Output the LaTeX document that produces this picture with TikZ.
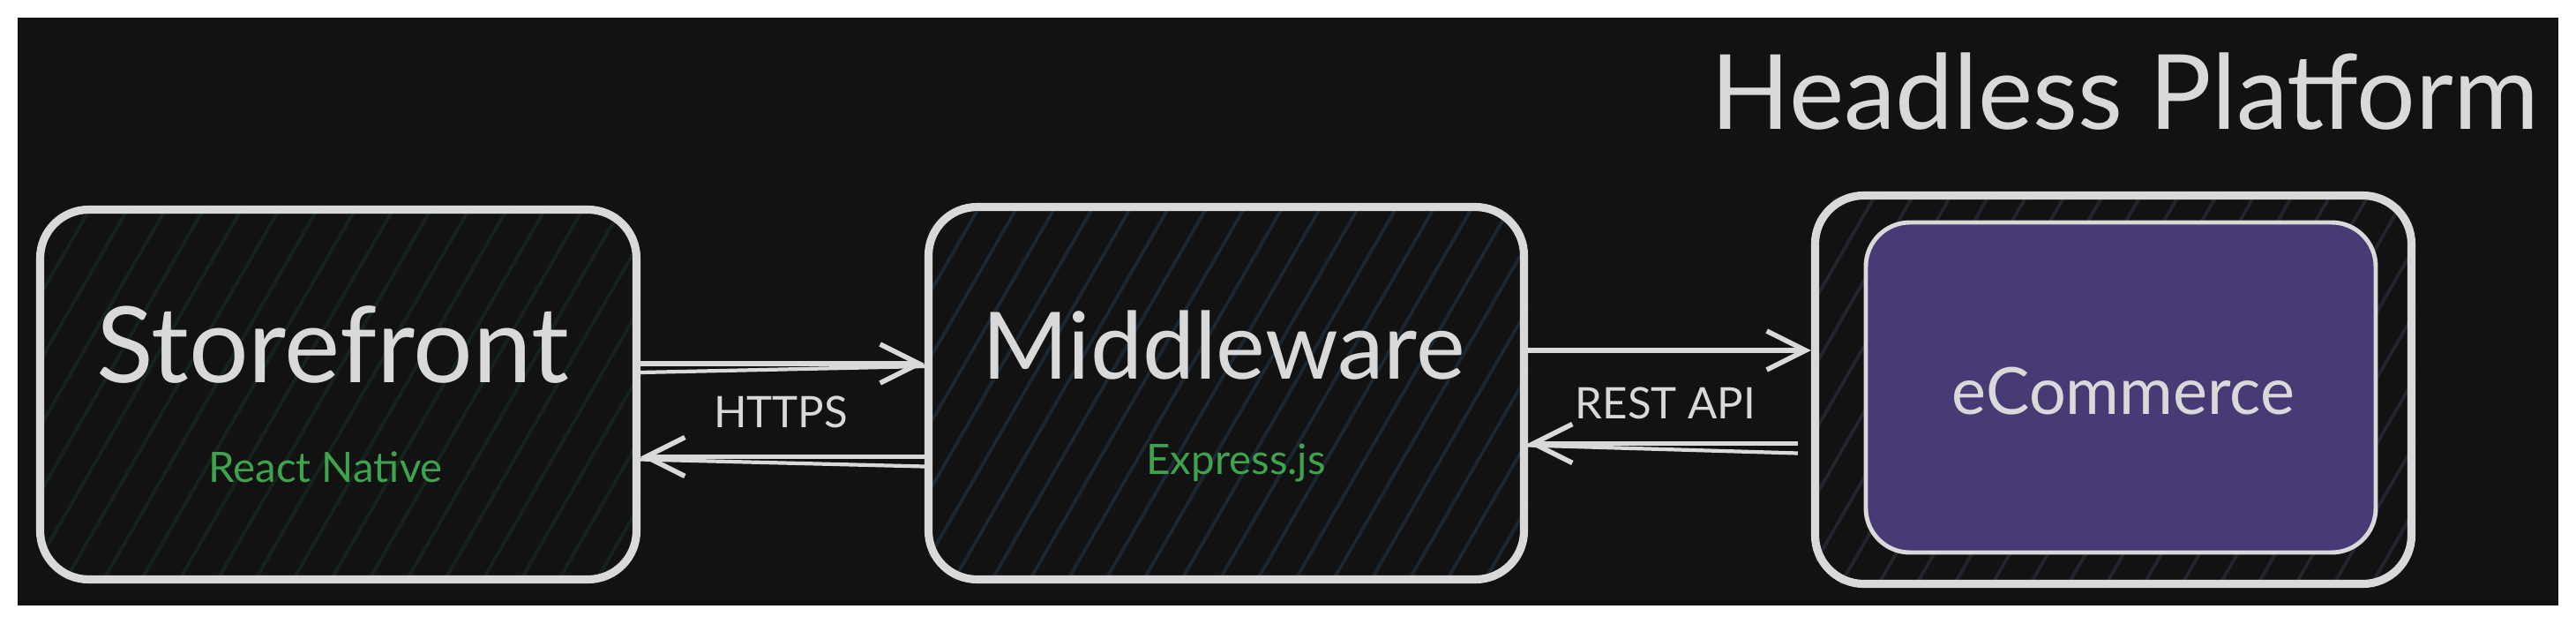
\documentclass[tikz,border=0pt]{standalone}
\usepackage{fontspec}
\setmainfont{Lato}
\usetikzlibrary{positioning,arrows.meta,backgrounds}
\definecolor{canvas}{HTML}{121212}
\definecolor{chalk}{HTML}{D9D9D9}
\definecolor{grape}{HTML}{483A75}
\definecolor{leaf}{HTML}{3FA34D}
\definecolor{hatchgreen}{HTML}{16231A}
\definecolor{hatchblue}{HTML}{1A2631}
\definecolor{hatchgrape}{HTML}{26222E}

\begin{document}
\begin{tikzpicture}[>={Straight Barb[length=4.4mm,width=4.4mm]},
  box/.style={draw=chalk,line width=2.6pt,rounded corners=5.5mm,inner sep=0pt},
  link/.style={chalk,line width=1.6pt,->},
  trail/.style={chalk,line width=1.2pt},
  big/.style={text=chalk,font=\fontsize{#1}{34}\selectfont},
  tech/.style={text=leaf,font=\fontsize{13.5}{16}\selectfont},
  proto/.style={text=chalk,font=\fontsize{14}{16}\selectfont}]
\useasboundingbox (0,0) rectangle (29.2,7.06);

% boxes
\node[box,minimum width=6.76cm,minimum height=4.19cm] (sf) at (3.835,2.59) {};
\node[box,minimum width=6.75cm,minimum height=4.22cm] (mw) at (13.90,2.605) {};
\node[box,minimum width=6.76cm,minimum height=4.40cm] (ec) at (23.955,2.645) {};
\node[box,fill=grape,line width=1.4pt,rounded corners=5mm,minimum width=5.78cm,minimum height=3.74cm] (core) at (24.04,2.67) {};

% texts
\node[big=33.5] (title) at (24.09,6.02) {Headless Platform};
\node[big=34] (sfname) at (3.77,3.15) {Storefront};
\node[big=30] (mwname) at (13.87,3.15) {Middleware};
\node[tech] (sftech) at (3.69,1.77) {React Native};
\node[tech] (mwtech) at (14.01,1.81) {Express.js};
\node[big=21] (ecname) at (24.07,2.63) {eCommerce};
\node[proto] (https) at (8.85,2.39) {HTTPS};
\node[proto] (rest) at (18.88,2.49) {REST API};

% connectors
\draw[link] ([yshift=3.5mm]sf.east) -- ([yshift=3.5mm]sf.east -| mw.west);
\draw[trail] ([yshift=2.5mm]sf.east) -- ([yshift=3.2mm]sf.east -| mw.west);
\draw[link] ([yshift=-7.2mm]mw.west) -- ([yshift=-7.2mm]mw.west -| sf.east);
\draw[trail] ([yshift=-8.3mm]mw.west) -- ([yshift=-7.5mm]mw.west -| sf.east);
\draw[link] ([yshift=4.85mm]mw.east) -- ([yshift=4.85mm]mw.east -| ec.west);
\draw[link] ([xshift=-1.5mm,yshift=-6.1mm]ec.west) -- ([yshift=-6.1mm]ec.west -| mw.east);
\draw[trail] ([xshift=-1.5mm,yshift=-7.2mm]ec.west) -- ([yshift=-6.3mm]ec.west -| mw.east);

\begin{scope}[on background layer]
\fill[white] (0,0) rectangle (29.2,7.06);
\fill[canvas] (0.2,0.2) rectangle (29.0,6.86);
\foreach \bx/\hc in {sf/hatchgreen,mw/hatchblue,ec/hatchgrape}{
  \begin{scope}
  \clip[rounded corners=5.5mm] (\bx.south west) rectangle (\bx.north east);
  \foreach \k in {0,...,23}
    \draw[\hc,line width=1.1pt] ([xshift=\k*4.3mm-27mm]\bx.south west) -- ++(60:5.2cm);
  \end{scope}}
\end{scope}
\end{tikzpicture}
\end{document}
